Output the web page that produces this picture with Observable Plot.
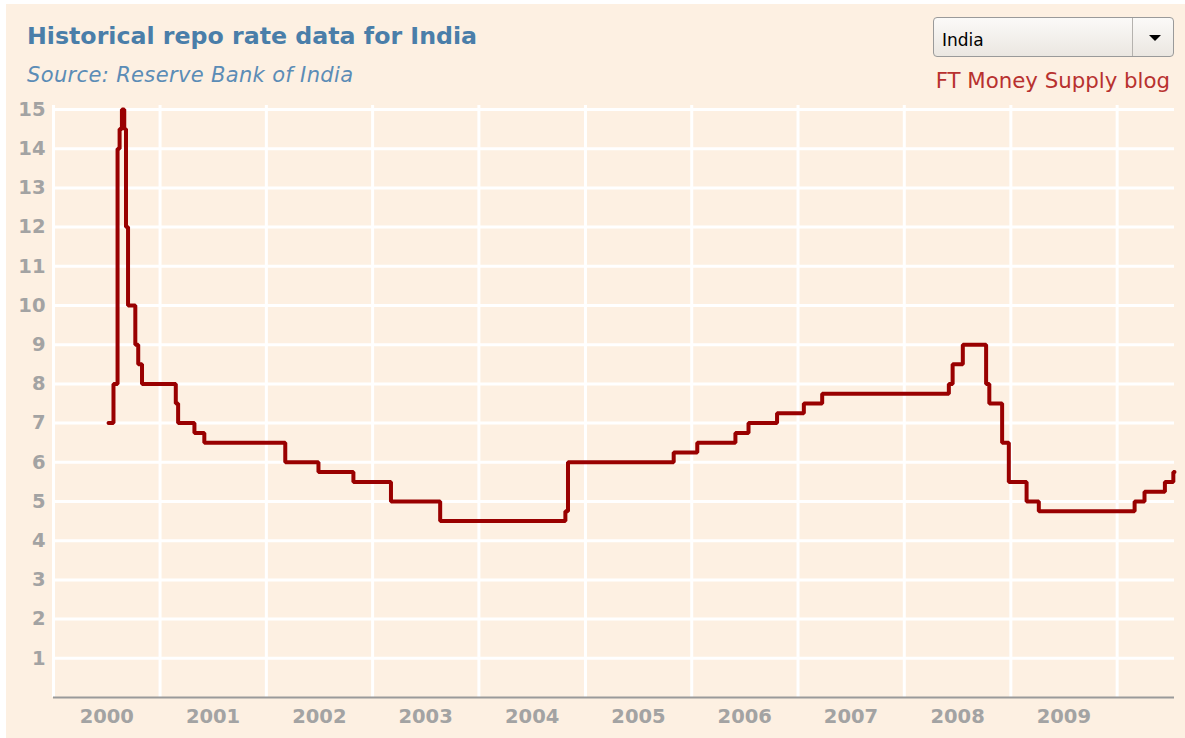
<!DOCTYPE html>
<html>
<head>
<meta charset="utf-8">
<script src="https://cdn.jsdelivr.net/npm/d3@7"></script>
<script src="https://cdn.jsdelivr.net/npm/@observablehq/plot@0.6"></script>
<style>
  html, body { margin: 0; padding: 0; background: #ffffff; width: 1185px; height: 738px; overflow: hidden; }
  #bg { position: absolute; left: 6px; top: 4px; width: 1179px; height: 734px; background: #fdf0e2; }
  .abs { position: absolute; white-space: nowrap; }
  #title { left: 27px; top: 25px; font: bold 23.7px/23.7px "DejaVu Sans", sans-serif; color: #4a7ea9; }
  #subtitle { left: 27px; top: 65px; font: oblique 21px/21px "DejaVu Sans", sans-serif; letter-spacing: 0.35px; color: #5b8cb6; }
  #ft { right: 15px; top: 70px; font: 21.3px/21px "DejaVu Sans", sans-serif; color: #b8312f; }
  #dropdown { left: 933px; top: 17px; width: 241px; height: 40px; border: 1px solid #9a9a9a; border-radius: 4px;
              background: linear-gradient(#fbfaf8, #ebe7e1); box-sizing: border-box; }
  #ddtext { position: absolute; left: 8px; top: 14px; font: 17px/17px "DejaVu Sans", sans-serif; color: #000; }
  #ddsep { position: absolute; left: 198px; top: 0; width: 1px; height: 38px; background: #b5b2ae; }
  #ddarrow { position: absolute; left: 215px; top: 17px; width: 0; height: 0;
             border-left: 6px solid transparent; border-right: 6px solid transparent; border-top: 6px solid #000; }
  #chart { position: absolute; left: 0; top: 96px; }
</style>
</head>
<body>
<div id="bg"></div>
<div id="title" class="abs">Historical repo rate data for India</div>
<div id="subtitle" class="abs">Source: Reserve Bank of India</div>
<div id="dropdown" class="abs"><span id="ddtext">India</span><div id="ddsep"></div><div id="ddarrow"></div></div>
<div id="ft" class="abs">FT Money Supply blog</div>
<div id="chart"></div>
<script>
// Step dates (each rate applies from its date until the next one)
const dates = [
  "2000-07-08", "2000-07-25", "2000-08-08", "2000-08-15", "2000-08-23", "2000-08-31",
  "2000-09-06", "2000-09-13", "2000-10-08", "2000-10-18", "2000-10-31",
  "2001-02-24", "2001-03-04", "2001-04-29", "2001-06-02",
  "2002-03-07", "2002-06-29", "2002-10-27",
  "2003-03-05", "2003-08-21",
  "2004-10-24", "2004-11-02",
  "2005-10-31",
  "2006-01-20", "2006-05-31", "2006-07-15", "2006-10-21",
  "2007-01-21", "2007-03-25",
  "2008-06-02", "2008-06-15", "2008-07-20", "2008-10-08", "2008-10-19", "2008-12-02", "2008-12-25",
  "2009-02-24", "2009-04-07",
  "2010-03-02", "2010-04-05", "2010-06-14", "2010-07-13", "2010-07-17"
];
const rates = [
  7, 8, 14, 14.5, 15, 14.5,
  12, 10, 9, 8.5, 8,
  7.5, 7, 6.75, 6.5,
  6, 5.75, 5.5,
  5, 4.5,
  4.75, 6,
  6.25,
  6.5, 6.75, 7, 7.25,
  7.5, 7.75,
  8, 8.5, 9, 8, 7.5, 6.5, 5.5,
  5, 4.75,
  5, 5.25, 5.5, 5.75, 5.75
];
const yTicks = [1, 2, 3, 4, 5, 6, 7, 8, 9, 10, 11, 12, 13, 14, 15];
const yearLabels = [2000, 2001, 2002, 2003, 2004, 2005, 2006, 2007, 2008, 2009];
const gridYears = [2000, 2001, 2002, 2003, 2004, 2005, 2006, 2007, 2008, 2009, 2010];
const xStart = "2000-01-01";
const xEnd = "2010-07-17";

const data = dates.map((d, i) => ({date: new Date(d + "T00:00:00Z"), rate: rates[i]}));
const yearStarts = gridYears.map(y => new Date(Date.UTC(y, 0, 1)));
const midYears = yearLabels.map(y => new Date(Date.UTC(y, 6, 2)));

const chart = Plot.plot({
  width: 1185,
  height: 642,
  marginLeft: 53,
  marginRight: 11,
  marginTop: 13,
  marginBottom: 41,
  style: {fontFamily: "DejaVu Sans, sans-serif", fontSize: "19.5px", fontWeight: "bold", color: "#a3a3a3", background: "transparent", overflow: "visible"},
  x: {type: "utc", domain: [new Date(xStart + "T00:00:00Z"), new Date(xEnd + "T00:00:00Z")]},
  y: {domain: [0, 15]},
  marks: [
    Plot.ruleX(yearStarts, {y1: 0, y2: 15.1, stroke: "#ffffff", strokeWidth: 3}),
    Plot.ruleY(yTicks, {stroke: "#ffffff", strokeWidth: 3}),
    Plot.ruleY([0], {stroke: "#9a9a9a", strokeWidth: 2}),
    Plot.lineY(data, {x: "date", y: "rate", curve: "step-after", stroke: "#990000", strokeWidth: 4, strokeLinejoin: "miter"}),
    Plot.axisY({ticks: yTicks, tickSize: 0, tickPadding: 8, label: null, tickFormat: d => String(d)}),
    Plot.axisX({ticks: midYears, tickSize: 0, tickPadding: 12, label: null, tickFormat: d => String(d.getUTCFullYear())})
  ]
});
document.getElementById("chart").appendChild(chart);
</script>
</body>
</html>
